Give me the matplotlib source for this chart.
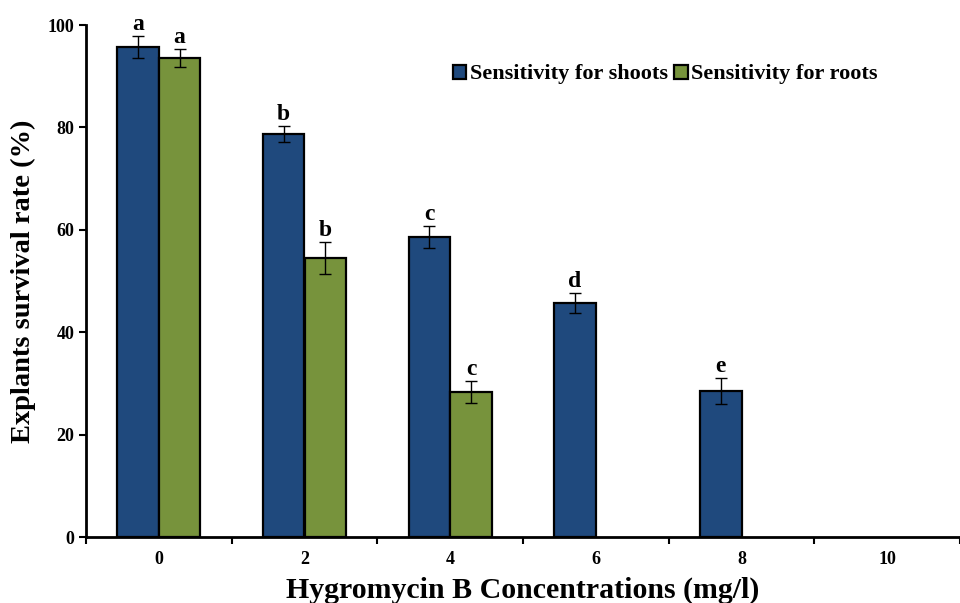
import matplotlib
matplotlib.use('Agg')
import matplotlib.pyplot as plt
from matplotlib.patches import Patch
import numpy as np

concentrations = ['0', '2', '4', '6', '8', '10']
shoots = [95.7, 78.7, 58.6, 45.7, 28.5, 0]
shoots_err = [2.1, 1.6, 2.2, 2.0, 2.5, 0]
roots = [93.5, 54.5, 28.3, 0, 0, 0]
roots_err = [1.8, 3.2, 2.2, 0, 0, 0]
shoots_letters = ['a', 'b', 'c', 'd', 'e', '']
roots_letters = ['a', 'b', 'c', '', '', '']

plt.rcParams['font.family'] = 'Liberation Serif'
plt.rcParams['font.weight'] = 'bold'

fig = plt.figure(figsize=(9.6, 6.03), dpi=100)
ax = fig.add_axes([86/960, 66/603, 874/960, 512/603])

x = np.arange(len(concentrations))
w = 0.286
blue = '#1F497D'
green = '#77933C'

for i in range(len(x)):
    if shoots[i] > 0:
        ax.bar(x[i] - w/2, shoots[i], w, color=blue, edgecolor='black', linewidth=1.6, zorder=2)
        ax.errorbar(x[i] - w/2, shoots[i], yerr=shoots_err[i], fmt='none', ecolor='black',
                    elinewidth=1, capsize=4, capthick=1, zorder=3)
        ax.text(x[i] - w/2, shoots[i] + shoots_err[i] + 0.2, shoots_letters[i],
                ha='center', va='bottom', fontsize=17, fontweight='bold')
    if roots[i] > 0:
        ax.bar(x[i] + w/2, roots[i], w, color=green, edgecolor='black', linewidth=1.6, zorder=2)
        ax.errorbar(x[i] + w/2, roots[i], yerr=roots_err[i], fmt='none', ecolor='black',
                    elinewidth=1, capsize=4, capthick=1, zorder=3)
        ax.text(x[i] + w/2, roots[i] + roots_err[i] + 0.2, roots_letters[i],
                ha='center', va='bottom', fontsize=17, fontweight='bold')

handles = [Patch(facecolor=blue, edgecolor='black', linewidth=1.6, label='Sensitivity for shoots'),
           Patch(facecolor=green, edgecolor='black', linewidth=1.6, label='Sensitivity for roots')]
ax.legend(handles=handles, loc='upper left', bbox_to_anchor=(0.397, 0.962), ncol=2, frameon=False,
          prop={'family': 'Liberation Serif', 'weight': 'bold', 'size': 16},
          handlelength=0.6, handleheight=0.6, handletextpad=0.15, columnspacing=0.3)

ax.set_xlim(-0.5, -0.5 + 874/147)
ax.set_ylim(0, 100)
ax.set_yticks([0, 20, 40, 60, 80, 100])
ax.set_xticks(x)
ax.set_xticklabels(concentrations)
ax.set_xticks(np.arange(-0.5, 6, 1), minor=True)
ax.tick_params(axis='x', which='major', length=0, pad=10, labelsize=13)
ax.tick_params(axis='x', which='minor', length=5, width=1.5, direction='out')
ax.tick_params(axis='y', length=5, width=1.5, direction='out', labelsize=13)

ax.spines['top'].set_visible(False)
ax.spines['right'].set_visible(False)
ax.spines['left'].set_linewidth(2)
ax.spines['bottom'].set_linewidth(2)

ax.set_xlabel('Hygromycin B Concentrations (mg/l)', fontsize=21.5, fontweight='bold', labelpad=6)
ax.set_ylabel('Explants survival rate (%)', fontsize=20.5, fontweight='bold', labelpad=8)

fig.savefig('out.png', dpi=100)
